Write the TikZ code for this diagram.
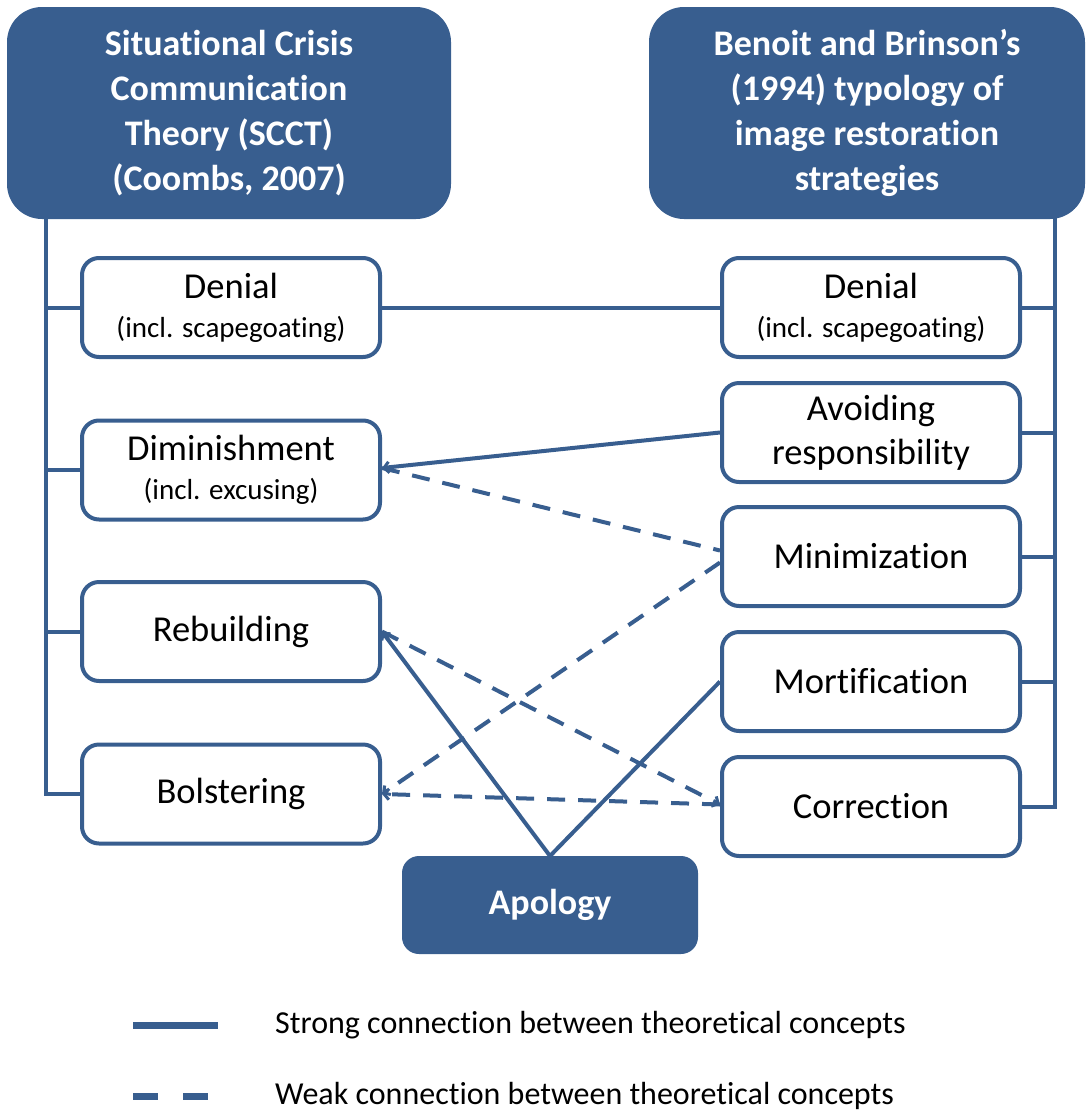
\documentclass[tikz,border=0pt]{standalone}
\usepackage{fontspec}
\setmainfont{Carlito}[Ligatures={NoCommon}]
\usetikzlibrary{arrows.meta}
\definecolor{navy}{RGB}{56,94,143}
\newcommand\subtxt{\fontsize{29}{34}\selectfont}
\tikzset{
  head/.style={draw=navy, fill=navy, line width=2pt, rounded corners=34pt, text=white,
    align=center, font=\fontsize{36}{45}\selectfont\bfseries, inner sep=0pt},
  item/.style={draw=navy, fill=white, line width=4pt, rounded corners=17pt,
    minimum width=298pt, minimum height=99pt, align=center, inner sep=0pt,
    font=\fontsize{36.5}{44}\selectfont},
  conn/.style={draw=navy, line width=4pt},
  weak/.style={conn, dash pattern=on 18pt off 13pt},
  tip/.style={-{Straight Barb[length=5pt,width=11pt,line width=3pt]}},
  legtext/.style={anchor=west, font=\fontsize{32}{38}\selectfont, inner sep=0pt}
}
\begin{document}
\begin{tikzpicture}[x=1pt,y=-1pt]
\useasboundingbox (0,0) rectangle (1086,1120);

% headers
\node[head, minimum width=442pt, minimum height=210pt] (hl) at (229,113)
  {Situational Crisis\\Communication\\Theory (SCCT)\\(Coombs, 2007)};
\node[head, minimum width=434pt, minimum height=210pt] (hr) at (867,113)
  {Benoit and Brinson’s\\(1994) typology of\\image restoration\\strategies};

% spine coordinates
\coordinate (ls) at (46,217);
\coordinate (rs) at (1055,217);

% left items
\node[item] (dl) at (231,307.5) {Denial\\[-5pt]{\subtxt (incl. scapegoating)}};
\node[item] (dm) at (231,470) {Diminishment\\[-5pt]{\subtxt (incl. excusing)}};
\node[item] (rb) at (231,631.5) {Rebuilding};
\node[item] (bo) at (231,794) {Bolstering};

% right items
\node[item] (dr) at (871,307.5) {Denial\\[-5pt]{\subtxt (incl. scapegoating)}};
\node[item] (av) at (871,432.5) {Avoiding\\responsibility};
\node[item] (mi) at (871,556.5) {Minimization};
\node[item] (mo) at (871,681.5) {Mortification};
\node[item] (co) at (871,806.5) {Correction};

% apology
\node[head, rounded corners=16pt, minimum width=294pt, minimum height=96pt,
  font=\fontsize{36}{44}\selectfont\bfseries] (ap) at (550,905) {Apology};

% left spine
\draw[conn] (ls) |- (bo.west);
\draw[conn] (ls |- dl.west) -- (dl.west);
\draw[conn] (ls |- dm.west) -- (dm.west);
\draw[conn] (ls |- rb.west) -- (rb.west);

% right spine
\draw[conn] (rs) |- (co.east);
\draw[conn] (rs |- dr.east) -- (dr.east);
\draw[conn] (rs |- av.east) -- (av.east);
\draw[conn] (rs |- mi.east) -- (mi.east);
\draw[conn] (rs |- mo.east) -- (mo.east);

% cross connections
\draw[conn] (dl.east) -- (dr.west);
\draw[conn, tip] (av.west) -- ([yshift=2pt]dm.east);
\draw[weak] ([yshift=2pt]dm.east) -- ([yshift=6pt]mi.west);
\draw[weak, tip] ([yshift=-6pt]mi.west) -- (bo.east);
\draw[weak, tip] ([yshift=2pt]co.west) -- (bo.east);
\draw[weak, tip] (rb.east) -- ([yshift=2pt]co.west);
\draw[conn, tip] (ap.north) -- (rb.east);
\draw[conn] (ap.north) -- (mo.west);

% legend
\coordinate (s1) at (133,1025);
\coordinate (s2) at (218,1025);
\coordinate (w1) at (133,1096);
\coordinate (w2) at (208,1096);
\draw[navy, line width=7pt] (s1) -- (s2);
\draw[navy, line width=7pt, dash pattern=on 25pt off 25pt] (w1) -- (w2);
\node[legtext] (lt1) at (275,1025) {Strong connection between theoretical concepts};
\node[legtext] (lt2) at (275,1096) {Weak connection between theoretical concepts};
\end{tikzpicture}
\end{document}
